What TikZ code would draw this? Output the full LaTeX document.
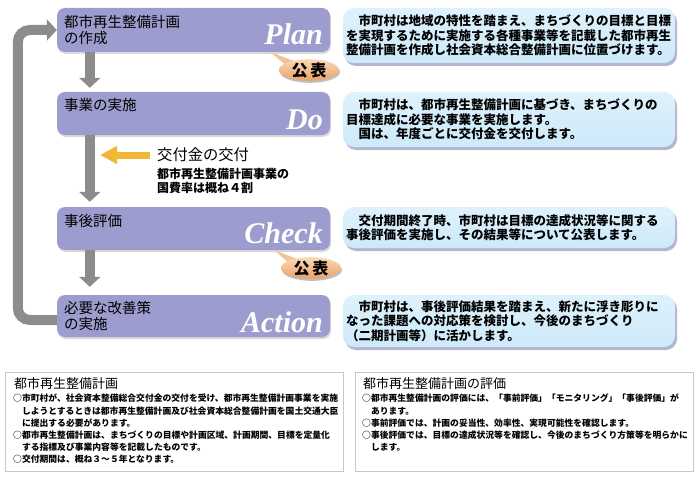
\documentclass[tikz,border=0pt]{standalone}
\usepackage{fontspec}
\newfontfamily\jp{Noto Sans CJK JP}
\newfontfamily\lat{Liberation Serif}
\usetikzlibrary{arrows.meta,shadows,shapes.geometric}
\definecolor{pbox}{RGB}{156,156,206}
\definecolor{garrowc}{RGB}{140,140,140}
\definecolor{yarrowc}{RGB}{242,183,53}
\definecolor{bluebox}{RGB}{205,233,249}
\definecolor{bluetop}{RGB}{222,242,252}
\definecolor{blueshadow}{RGB}{150,150,190}
\definecolor{peachtop}{RGB}{251,217,181}
\definecolor{peachbot}{RGB}{233,160,106}
\definecolor{framec}{RGB}{200,200,200}
\begin{document}
\begin{tikzpicture}[x=1pt,y=-1pt,
  phase/.style={fill=pbox, rounded corners=8pt, minimum width=273pt, inner sep=0pt,
    drop shadow={shadow xshift=1pt, shadow yshift=-2pt, fill=black, opacity=0.15}},
  phasetext/.style={anchor=west, inner sep=0pt, align=left, font=\jp\fontsize{14.5}{16}\selectfont},
  latword/.style={anchor=base east, inner sep=0pt, text=white, font=\lat\bfseries\itshape\fontsize{30}{30}\selectfont},
  desc/.style={top color=bluetop, bottom color=bluebox, rounded corners=11pt, text width=326pt,
    inner xsep=3pt, inner ysep=0pt, align=left, font=\jp\bfseries\fontsize{12.5}{14.5}\selectfont,
    drop shadow={shadow xshift=2pt, shadow yshift=-3pt, fill=blueshadow, opacity=0.7}},
  garrow/.style={draw=garrowc, line width=10pt, -{Triangle[width=21pt,length=10pt]}},
  yarrow/.style={draw=yarrowc, line width=7pt, -{Triangle[width=17pt,length=17pt]}},
  pub/.style={ellipse, top color=peachtop, bottom color=peachbot, minimum width=60pt, minimum height=20pt,
    inner sep=0pt, font=\jp\bfseries\fontsize{16}{16}\selectfont,
    drop shadow={shadow xshift=1pt, shadow yshift=-2pt, fill=black, opacity=0.25}},
  frame/.style={draw=framec, line width=1pt, fill=white},
  ftitle/.style={anchor=west, inner sep=0pt, font=\jp\fontsize{13}{14}\selectfont},
  fbody/.style={anchor=north west, inner sep=0pt, align=left, font=\jp\bfseries\fontsize{8.8}{12.2}\selectfont}
]
\useasboundingbox (0,0) rectangle (700,476);
\fill[white] (0,0) rectangle (700,476);

% phase boxes
\node[phase, minimum height=44pt] (plan) at (193.5,30) {};
\node[phase, minimum height=43pt] (do) at (193.5,113.5) {};
\node[phase, minimum height=43pt] (check) at (193.5,228.5) {};
\node[phase, minimum height=42pt] (action) at (193.5,316) {};

\node[phasetext] (plant) at (64,30) {都市再生整備計画\\の作成};
\node[phasetext] (dot) at (64,105) {事業の実施};
\node[phasetext] (checkt) at (64,221) {事後評価};
\node[phasetext] (actiont) at (64,316) {必要な改善策\\の実施};

\node[latword] (planw) at (323,45) {Plan};
\node[latword] (dow) at (323,129) {Do};
\node[latword] (checkw) at (323,243) {Check};
\node[latword] (actionw) at (323,332) {Action};

% gray arrows
\draw[garrow, shorten >=4pt] ([xshift=33pt]plan.south west) -- ([xshift=33pt]do.north west);
\draw[garrow, shorten >=5pt] ([xshift=33pt]do.south west) -- ([xshift=33pt]check.north west);
\draw[garrow, shorten >=8pt] ([xshift=33pt]check.south west) -- ([xshift=33pt]action.north west);
\draw[garrow, rounded corners=12pt] ([yshift=-4pt]action.west) -- ++(-39,0) |- (plan.west);

% callouts
\fill[peachtop!60!peachbot] (270,52) -- (287,66) -- (297,62) -- cycle;
\node[pub] (pub1) at (309,70) {公\,表};
\fill[peachtop!60!peachbot] (274,250) -- (290,264) -- (300,260) -- cycle;
\node[pub] (pub2) at (311,268) {公\,表};

% grant arrow and texts
\node[anchor=west, inner sep=0pt, font=\jp\fontsize{15.3}{16}\selectfont] (kofu) at (157,155) {交付金の交付};
\node[anchor=north west, inner sep=0pt, align=left, font=\jp\bfseries\fontsize{12}{14}\selectfont] (kofut) at (157,168) {都市再生整備計画事業の\\国費率は概ね４割};
\coordinate (ytip) at (100,155);
\draw[yarrow] ([xshift=-7pt]kofu.west) -- (ytip);

% description boxes
\node[desc, minimum height=55pt] (d1) at (509,35.5) {　市町村は地域の特性を踏まえ、まちづくりの目標と目標\\を実現するために実施する各種事業等を記載した都市再生\\整備計画を作成し社会資本総合整備計画に位置づけます。};
\node[desc, minimum height=55pt] (d2) at (509,119.5) {　市町村は、都市再生整備計画に基づき、まちづくりの\\目標達成に必要な事業を実施します。\\　国は、年度ごとに交付金を交付します。};
\node[desc, minimum height=41pt] (d3) at (509,227.5) {　交付期間終了時、市町村は目標の達成状況等に関する\\事後評価を実施し、その結果等について公表します。};
\node[desc, minimum height=52pt] (d4) at (509,321) {　市町村は、事後評価結果を踏まえ、新たに浮き彫りに\\なった課題への対応策を検討し、今後のまちづくり\\（二期計画等）に活かします。};

% bottom frames
\node[frame, minimum width=338pt, minimum height=99pt, anchor=north west, inner sep=0pt] (f1) at (5,372) {};
\node[ftitle] (f1t) at (14,384) {都市再生整備計画};
\node[fbody] (f1b) at (13,394) {○市町村が、社会資本整備総合交付金の交付を受け、都市再生整備計画事業を実施\\　しようとするときは都市再生整備計画及び社会資本総合整備計画を国土交通大臣\\　に提出する必要があります。\\○都市再生整備計画は、まちづくりの目標や計画区域、計画期間、目標を定量化\\　する指標及び事業内容等を記載したものです。\\○交付期間は、概ね３～５年となります。};

\node[frame, minimum width=338pt, minimum height=99pt, anchor=north west, inner sep=0pt] (f2) at (355,372) {};
\node[ftitle] (f2t) at (363,384) {都市再生整備計画の評価};
\node[fbody] (f2b) at (362,394) {○都市再生整備計画の評価には、「事前評価」「モニタリング」「事後評価」が\\　あります。\\○事前評価では、計画の妥当性、効率性、実現可能性を確認します。\\○事後評価では、目標の達成状況等を確認し、今後のまちづくり方策等を明らかに\\　します。};
\end{tikzpicture}
\end{document}
